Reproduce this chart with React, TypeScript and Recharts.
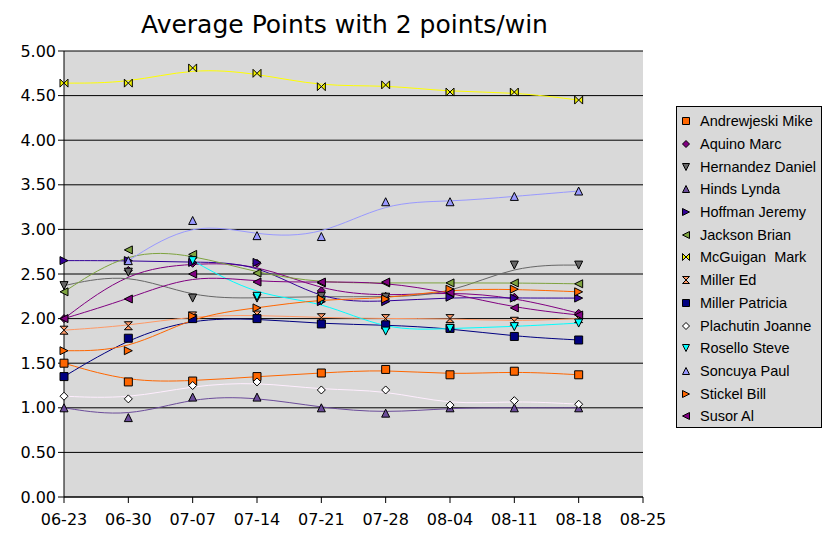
import React from "react"
import { LineChart, Line, XAxis, YAxis, CartesianGrid } from "recharts"

const dates = ["06-23", "06-30", "07-07", "07-14", "07-21", "07-28", "08-04", "08-11", "08-18", "08-25"]

const andrewjeski = [1.5, 1.29, 1.3, 1.35, 1.39, 1.43, 1.37, 1.41, 1.37]
const aquino = [2.0, 2.54, 2.62, 2.62, 2.31, 2.25, 2.3, 2.24, 2.06]
const hernandez = [2.37, 2.52, 2.23, 2.23, 2.25, 2.24, 2.27, 2.6, 2.6]
const hinds = [1.0, 0.89, 1.12, 1.12, 1.0, 0.94, 1.0, 1.0, 1.0]
const hoffman = [2.65, 2.65, 2.63, 2.63, 2.19, 2.19, 2.24, 2.23, 2.23]
const jackson = [2.3, 2.77, 2.72, 2.51, 2.4, 2.4, 2.4, 2.4, 2.39]
const mcguigan = [4.64, 4.64, 4.81, 4.75, 4.6, 4.62, 4.54, 4.54, 4.45]
const millerEd = [1.87, 1.92, 2.03, 2.04, 2.01, 2.0, 2.0, 1.97, 2.0]
const millerPatricia = [1.35, 1.78, 2.0, 2.0, 1.94, 1.93, 1.89, 1.8, 1.76]
const plachutin = [1.13, 1.1, 1.25, 1.29, 1.2, 1.2, 1.03, 1.08, 1.04]
const rosello = [null, null, 2.65, 2.25, 2.2, 1.86, 1.89, 1.91, 1.95]
const soncuya = [null, 2.65, 3.1, 2.93, 2.92, 3.31, 3.31, 3.37, 3.43]
const stickel = [1.64, 1.64, 2.03, 2.12, 2.22, 2.22, 2.33, 2.33, 2.3]
const susor = [2.0, 2.22, 2.5, 2.41, 2.41, 2.41, 2.29, 2.12, 2.04]

const yTicks = [0, 0.5, 1, 1.5, 2, 2.5, 3, 3.5, 4, 4.5, 5]

type Shape = "square" | "diamond" | "down" | "up" | "right" | "left" | "bowtie" | "hourglass"

const series: { key: string; name: string; values: (number | null)[]; color: string; fill: string; shape: Shape }[] = [
  { key: "andrewjeski", name: "Andrewjeski Mike", values: andrewjeski, color: "#ff6600", fill: "#ff6600", shape: "square" },
  { key: "aquino", name: "Aquino Marc", values: aquino, color: "#800080", fill: "#800080", shape: "diamond" },
  { key: "hernandez", name: "Hernandez Daniel", values: hernandez, color: "#666666", fill: "#666666", shape: "down" },
  { key: "hinds", name: "Hinds Lynda", values: hinds, color: "#6b4c9a", fill: "#6b4c9a", shape: "up" },
  { key: "hoffman", name: "Hoffman Jeremy", values: hoffman, color: "#330099", fill: "#330099", shape: "right" },
  { key: "jackson", name: "Jackson Brian", values: jackson, color: "#7ea33f", fill: "#7ea33f", shape: "left" },
  { key: "mcguigan", name: "McGuigan  Mark", values: mcguigan, color: "#ffff00", fill: "#f0f000", shape: "bowtie" },
  { key: "millerEd", name: "Miller Ed", values: millerEd, color: "#ff9966", fill: "#ff9966", shape: "hourglass" },
  { key: "millerPatricia", name: "Miller Patricia", values: millerPatricia, color: "#000080", fill: "#000080", shape: "square" },
  { key: "plachutin", name: "Plachutin Joanne", values: plachutin, color: "#ffeeff", fill: "#ffffff", shape: "diamond" },
  { key: "rosello", name: "Rosello Steve", values: rosello, color: "#00ffff", fill: "#00ffff", shape: "down" },
  { key: "soncuya", name: "Soncuya Paul", values: soncuya, color: "#9999ff", fill: "#9999ff", shape: "up" },
  { key: "stickel", name: "Stickel Bill", values: stickel, color: "#ff6600", fill: "#ff6600", shape: "right" },
  { key: "susor", name: "Susor Al", values: susor, color: "#800080", fill: "#800080", shape: "left" },
]

const data = dates.map((d, i) => {
  const row: Record<string, string | number | null> = { date: d }
  series.forEach((s) => {
    row[s.key] = i < s.values.length ? s.values[i] : null
  })
  return row
})

function markerPoints(shape: Shape, cx: number, cy: number, s: number) {
  switch (shape) {
    case "diamond":
      return `${cx},${cy - s} ${cx + s},${cy} ${cx},${cy + s} ${cx - s},${cy}`
    case "down":
      return `${cx - s},${cy - s} ${cx + s},${cy - s} ${cx},${cy + s}`
    case "up":
      return `${cx},${cy - s} ${cx + s},${cy + s} ${cx - s},${cy + s}`
    case "right":
      return `${cx - s},${cy - s} ${cx + s},${cy} ${cx - s},${cy + s}`
    case "left":
      return `${cx + s},${cy - s} ${cx - s},${cy} ${cx + s},${cy + s}`
    case "bowtie":
      return `${cx - s},${cy - s} ${cx},${cy} ${cx + s},${cy - s} ${cx + s},${cy + s} ${cx},${cy} ${cx - s},${cy + s}`
    case "hourglass":
      return `${cx - s},${cy - s} ${cx + s},${cy - s} ${cx},${cy} ${cx + s},${cy + s} ${cx - s},${cy + s} ${cx},${cy}`
    default:
      return `${cx - s},${cy - s} ${cx + s},${cy - s} ${cx + s},${cy + s} ${cx - s},${cy + s}`
  }
}

function Marker({ shape, cx, cy, fill, s }: { shape: Shape; cx: number; cy: number; fill: string; s: number }) {
  return <polygon points={markerPoints(shape, cx, cy, s)} fill={fill} stroke="#000" strokeWidth={1} />
}

const makeDot = (shape: Shape, fill: string) => (props: any) => {
  const { cx, cy, index, value } = props
  if (cx == null || cy == null || value == null) return <g key={index} />
  return <Marker key={index} shape={shape} cx={cx} cy={cy} fill={fill} s={4} />
}

function LegendBox() {
  return (
    <div
      style={{
        position: "absolute",
        left: 676,
        top: 106,
        width: 146,
        height: 322,
        background: "#d9d9d9",
        border: "1px solid #000",
        boxSizing: "border-box",
        paddingTop: 3,
        fontFamily: "Liberation Sans",
        fontSize: 14.5,
      }}
    >
      {series.map((s) => (
        <div key={s.key} style={{ height: 22.7, display: "flex", alignItems: "center" }}>
          <svg width={21} height={12} style={{ marginLeft: 2 }}>
            <Marker shape={s.shape} cx={7} cy={6} fill={s.fill} s={3.5} />
          </svg>
          <span style={{ whiteSpace: "pre" }}>{s.name}</span>
        </div>
      ))}
    </div>
  )
}

export default function App() {
  return (
    <div style={{ position: "absolute", left: 0, top: 0, width: 831, height: 533, background: "#fff", fontFamily: "DejaVu Sans" }}>
      <div style={{ position: "absolute", left: 0, top: 10, width: 689, textAlign: "center", fontSize: 25, lineHeight: "30px" }}>
        Average Points with 2 points/win
      </div>
      <LineChart width={831} height={533} data={data} margin={{ top: 51, right: 188, bottom: 6, left: 0 }}>
        <CartesianGrid vertical={false} fill="#d9d9d9" stroke="#000" strokeOpacity={1} />
        <XAxis
          dataKey="date"
          height={30}
          interval={0}
          tickSize={6}
          axisLine={{ stroke: "#000" }}
          tickLine={{ stroke: "#000" }}
          tick={{ fill: "#000", fontSize: 16 }}
          tickMargin={11}
        />
        <YAxis
          width={64}
          domain={[0, 5]}
          ticks={yTicks}
          interval={0}
          tickFormatter={(v: number) => v.toFixed(2)}
          tickSize={6}
          axisLine={{ stroke: "#000" }}
          tickLine={{ stroke: "#000" }}
          tick={{ fill: "#000", fontSize: 16 }}
          tickMargin={2}
        />
        {series.map((s) => (
          <Line
            key={s.key}
            dataKey={s.key}
            name={s.name}
            type="basis"
            stroke={s.color}
            strokeWidth={1}
            dot={makeDot(s.shape, s.fill)}
            activeDot={false}
            isAnimationActive={false}
          />
        ))}
      </LineChart>
      <LegendBox />
    </div>
  )
}
